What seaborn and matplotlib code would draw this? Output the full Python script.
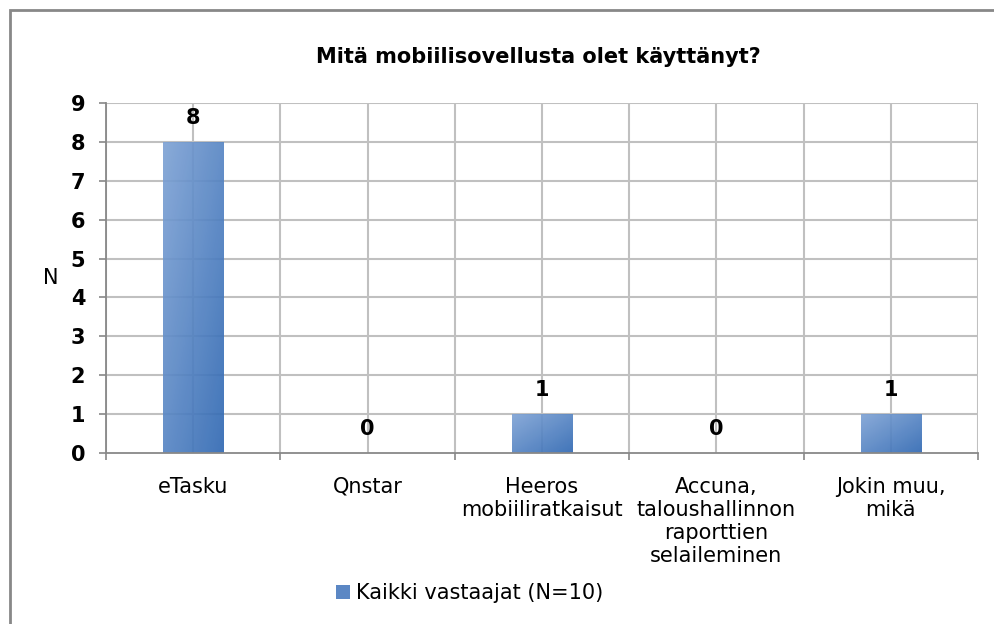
import numpy as np
import pandas as pd
import seaborn as sns
import matplotlib.pyplot as plt
from matplotlib.colors import LinearSegmentedColormap
from matplotlib.patches import Rectangle, Patch

# Data
categories = ["eTasku", "Qnstar", "Heeros\nmobiiliratkaisut",
              "Accuna,\ntaloushallinnon\nraporttien\nselaileminen",
              "Jokin muu,\nmikä"]
values = [8, 0, 1, 0, 1]
series_name = "Kaikki vastaajat (N=10)"

df = pd.DataFrame({"kategoria": categories, "N": values})

sns.set_theme(style="white")
plt.rcParams['font.family'] = ['DejaVu Sans']
plt.rcParams['text.color'] = 'black'
plt.rcParams['xtick.labelcolor'] = 'black'
plt.rcParams['ytick.labelcolor'] = 'black'
plt.rcParams['axes.labelcolor'] = 'black'

fig = plt.figure(figsize=(9.95, 6.24), dpi=100)
ax = fig.add_axes([106 / 995, 171 / 624, 872 / 995, 350 / 624])

sns.barplot(data=df, x="kategoria", y="N", ax=ax, color="#4f81bd",
            width=0.345, saturation=1, zorder=3)

# gradient fill on bars: light top-left -> darker bottom-right
grad_cmap = LinearSegmentedColormap.from_list("g", ["#7fa3d5", "#3169b3"])
gx, gy = np.meshgrid(np.linspace(0, 1, 64), np.linspace(0, 1, 64))
grad = (gx + gy) / 2
for bar in ax.patches:
    h = bar.get_height()
    if h <= 0:
        continue
    bar.set_facecolor("none")
    bar.set_edgecolor("none")
    x0, w = bar.get_x(), bar.get_width()
    im = ax.imshow(grad, cmap=grad_cmap, extent=[x0, x0 + w, 0, h],
                   origin="upper", aspect="auto", zorder=3, alpha=0.92)
    im.set_clip_path(bar)

ax.set_xlim(-0.5, len(categories) - 0.5)
ax.set_ylim(0, 9)

# value labels
for i, v in enumerate(values):
    ax.text(i, v + 0.36, str(v), ha="center", va="bottom",
            fontsize=15, fontweight="bold", color="black", zorder=4)

# grid: horizontal at integers, vertical at centres and boundaries
ax.set_yticks(range(0, 10))
ax.set_yticklabels([str(t) for t in range(0, 10)], fontsize=15, fontweight="bold")
for y in range(1, 10):
    ax.axhline(y, color="#c0c0c0", lw=1.5, zorder=1)
for x in np.arange(-0.5, len(categories), 0.5):
    ax.axvline(x, color="#c0c0c0", lw=1.5, zorder=1)

ax.set_xticks(range(len(categories)))
ax.set_xticklabels(categories, fontsize=15, linespacing=1.2)
ax.set_xticks(np.arange(-0.5, len(categories), 1.0), minor=True)
ax.tick_params(axis="x", which="major", length=0, pad=17)
ax.tick_params(axis="x", which="minor", length=5, color="#888888", width=1.2,
               direction="out", bottom=True)
ax.tick_params(axis="y", length=5, color="#888888", width=1.2,
               direction="out", left=True, pad=10)

for side in ["top", "right"]:
    ax.spines[side].set_visible(False)
for side in ["left", "bottom"]:
    ax.spines[side].set_color("#888888")
    ax.spines[side].set_linewidth(1.3)
    ax.spines[side].set_zorder(5)

ax.set_xlabel("")
ax.set_ylabel("N", rotation=0, fontsize=15, va="center", ha="center")
ax.yaxis.set_label_coords(-0.063, 0.5)

fig.text(538 / 995, 1 - 57 / 624, "Mitä mobiilisovellusta olet käyttänyt?",
         ha="center", va="center", fontsize=15, fontweight="bold")

handle = Patch(facecolor="#5b87c4", edgecolor="none")
fig.legend([handle], [series_name], loc="center", frameon=False,
           bbox_to_anchor=(470 / 995, 1 - 593 / 624), fontsize=15,
           handlelength=0.65, handleheight=0.65, handletextpad=0.3)

# outer border (top and left visible)
fig.patches.append(Rectangle((10 / 995, -0.1), 1.2, 1 - 10 / 624 + 0.1,
                             transform=fig.transFigure, fill=False,
                             edgecolor="#888888", lw=2))

fig.savefig("out.png", dpi=100)
